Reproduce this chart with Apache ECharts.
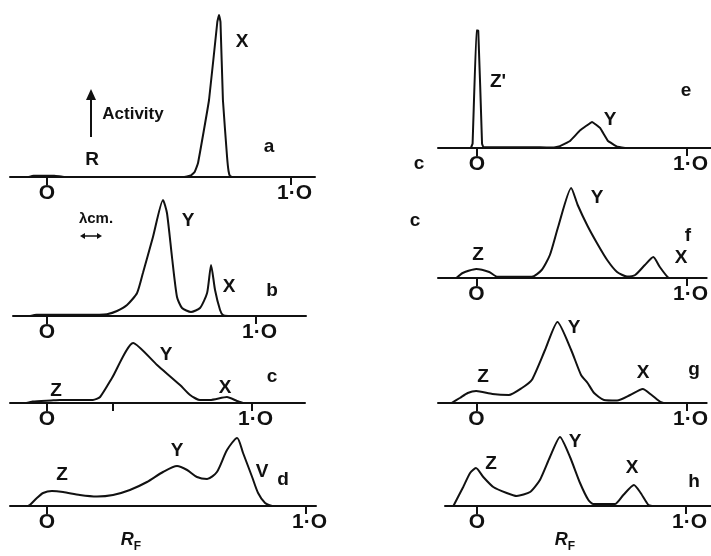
<!DOCTYPE html>
<html>
<head>
<meta charset="utf-8">
<script src="https://cdn.jsdelivr.net/npm/echarts@6/dist/echarts.min.js"></script>
<style>
  html, body { margin: 0; padding: 0; background: #fff; }
  #chart { width: 711px; height: 556px; }
</style>
</head>
<body>
<div id="chart"></div>
<script>
// activity traces, [Rf, activity]
const traceA = [[-0.075, 0], [-0.055, 1.3], [0.03, 1.3], [0.07, 0], [0.557, 0], [0.59, 1.5], [0.605, 5], [0.619, 14],
  [0.664, 77], [0.698, 155], [0.705, 162], [0.711, 155], [0.721, 77], [0.738, 20], [0.744, 6], [0.75, 1], [0.76, 0]];
const traceB = [[-0.08, 0], [-0.05, 1.2], [0.25, 1.2], [0.287, 1.7], [0.335, 5], [0.383, 11], [0.431, 23], [0.459, 43],
  [0.507, 79], [0.555, 116], [0.574, 103], [0.598, 59], [0.622, 19], [0.646, 8], [0.689, 4], [0.732, 8], [0.766, 23],
  [0.785, 51], [0.804, 26], [0.828, 6], [0.842, 1], [0.866, 0]];
const traceC = [[-0.1, 0], [-0.07, 1.5], [0.02, 2.5], [0.063, 3], [0.224, 3], [0.259, 6], [0.317, 25], [0.42, 60],
  [0.537, 38], [0.649, 18], [0.698, 8], [0.746, 3], [0.795, 3], [0.878, 6], [0.927, 2], [0.956, 0]];
const traceD = [[-0.073, 0], [-0.066, 1], [-0.039, 8], [-0.015, 13], [0.019, 15], [0.062, 14], [0.127, 11], [0.193, 9.5],
  [0.255, 11], [0.32, 16], [0.386, 24], [0.448, 34], [0.502, 40], [0.541, 36], [0.579, 29], [0.618, 27], [0.656, 34],
  [0.695, 56], [0.734, 68], [0.757, 53], [0.792, 29], [0.815, 13], [0.842, 3], [0.869, 0]];
const traceE = [[-0.029, 0], [-0.021, 5], [-0.003, 135], [0.006, 135], [0.024, 5], [0.031, 0.8], [0.3, 0.8],
  [0.362, 0.5], [0.395, 2], [0.443, 8], [0.49, 20], [0.548, 30], [0.586, 23], [0.624, 8], [0.667, 1.5], [0.705, 0]];
const traceF = [[-0.095, 0], [-0.065, 5], [-0.001, 9], [0.061, 6], [0.1, 1.2], [0.263, 1.2], [0.31, 8], [0.349, 23],
  [0.388, 51], [0.45, 90], [0.481, 73], [0.528, 52], [0.575, 34], [0.621, 18], [0.668, 6], [0.715, 1.5], [0.754, 3],
  [0.8, 13], [0.84, 21], [0.871, 11], [0.91, 0.5], [0.925, 0]];
const traceG = [[-0.118, 0], [-0.079, 5], [-0.041, 10], [-0.001, 12], [0.076, 9], [0.154, 8], [0.216, 15], [0.263, 23],
  [0.326, 53], [0.385, 81], [0.45, 53], [0.497, 28], [0.528, 20], [0.559, 10], [0.606, 3], [0.668, 2.5], [0.73, 8],
  [0.79, 14], [0.832, 8], [0.871, 1.5], [0.888, 0]];
const traceH = [[-0.113, 0], [-0.066, 19], [-0.033, 33], [-0.005, 38], [0.03, 29], [0.078, 19], [0.142, 13], [0.19, 10],
  [0.254, 14], [0.301, 26], [0.349, 49], [0.397, 69], [0.445, 49], [0.493, 23], [0.533, 6], [0.557, 2], [0.66, 2],
  [0.7, 11], [0.751, 21], [0.78, 14], [0.82, 1], [0.837, 0]];
const traces = [traceA, traceB, traceC, traceD, traceE, traceF, traceG, traceH];

const tickLabels = ['O', '1·O'];
const tickValues = [0, 1];

// where each strip sits on the page: pixel of Rf 0, pixel of Rf 1, line ends, baseline
const panels = [
  { p0: 47, p1: 291, xs: 10, xe: 315, base: 177, ticks: [0, 1], smooth: 0.1 },
  { p0: 47, p1: 256, xs: 13, xe: 306, base: 316, ticks: [0, 1], smooth: 0.2 },
  { p0: 47, p1: 252, xs: 10, xe: 305, base: 403, ticks: [0, 0.32, 1], smooth: 0.2 },
  { p0: 47, p1: 306, xs: 10, xe: 316, base: 506, ticks: [0, 1], smooth: 0.25 },
  { p0: 477, p1: 687, xs: 438, xe: 711, base: 148, ticks: [0, 1], smooth: 0.05 },
  { p0: 477, p1: 691, xs: 438, xe: 711, base: 278, ticks: [0, 1], smooth: 0.2 },
  { p0: 477, p1: 691, xs: 438, xe: 711, base: 403, ticks: [0, 1], smooth: 0.2 },
  { p0: 477, p1: 686, xs: 445, xe: 711, base: 506, ticks: [0, 1], smooth: 0.2 },
];

const labels = [
  ['X', 242, 42], ['R', 92, 160], ['a', 269, 147],
  ['Y', 188, 221], ['X', 229, 287], ['b', 272, 291],
  ['Z', 56, 391], ['Y', 166, 355], ['X', 225, 388], ['c', 272, 377],
  ['Z', 62, 475], ['Y', 177, 451], ['V', 262, 472], ['d', 283, 480],
  ["Z'", 498, 82], ['Y', 610, 120], ['e', 686, 91], ['c', 419, 164],
  ['Z', 478, 255], ['Y', 597, 198], ['X', 681, 258], ['f', 688, 236], ['c', 415, 221],
  ['Z', 483, 377], ['Y', 574, 328], ['X', 643, 373], ['g', 694, 370],
  ['Z', 491, 464], ['Y', 575, 442], ['X', 632, 468], ['h', 694, 482],
];

const ink = '#111';
const font = '"Liberation Sans", Arial, sans-serif';
const H = 170;

const chart = echarts.init(document.getElementById('chart'));

const grid = [], xAxis = [], yAxis = [], series = [];
panels.forEach((p, i) => {
  const span = p.p1 - p.p0;
  grid.push({ left: p.xs, width: p.xe - p.xs, top: p.base - H, height: H });
  xAxis.push({
    type: 'value',
    gridIndex: i,
    min: (p.xs - p.p0) / span,
    max: (p.xe - p.p0) / span,
    splitLine: { show: false },
    axisLine: { show: true, onZero: false, lineStyle: { color: ink, width: 2 } },
    axisTick: { show: true, customValues: p.ticks, length: 8, lineStyle: { color: ink, width: 2 } },
    axisLabel: {
      customValues: tickValues,
      // the "1" sits left of the tick, so nudge only that label
      formatter: v => (v === 0 ? tickLabels[0] : '{one|' + tickLabels[1] + '}'),
      color: ink,
      fontFamily: font,
      fontWeight: 'bold',
      fontSize: 21,
      margin: 6,
      rich: {
        one: { color: ink, fontFamily: font, fontWeight: 'bold', fontSize: 21, padding: [0, 0, 0, 7] },
      },
    },
  });
  yAxis.push({ type: 'value', gridIndex: i, min: 0, max: H, show: false });
  series.push({
    type: 'line',
    xAxisIndex: i,
    yAxisIndex: i,
    data: traces[i],
    symbol: 'none',
    smooth: p.smooth,
    clip: false,
    lineStyle: { color: ink, width: 2 },
  });
});

const text = (t, x, y, size, extra) => ({
  type: 'text', x, y,
  style: Object.assign({ text: t, fill: ink, font: `bold ${size}px ${font}`, align: 'center', verticalAlign: 'middle' }, extra || {}),
});

const graphic = labels.map(l => text(l[0], l[1], l[2], 19));
// "Activity" arrow
graphic.push(text('Activity', 133, 114, 17));
graphic.push({ type: 'line', shape: { x1: 91, y1: 137, x2: 91, y2: 96 }, style: { stroke: ink, lineWidth: 2 } });
graphic.push({ type: 'polygon', shape: { points: [[86, 100], [91, 89], [96, 100]] }, style: { fill: ink } });
// 1 cm scale
graphic.push(text('λcm.', 96, 219, 15));
graphic.push({ type: 'line', shape: { x1: 83, y1: 236, x2: 99, y2: 236 }, style: { stroke: ink, lineWidth: 1.5 } });
graphic.push({ type: 'polygon', shape: { points: [[80, 236], [85, 233], [85, 239]] }, style: { fill: ink } });
graphic.push({ type: 'polygon', shape: { points: [[102, 236], [97, 233], [97, 239]] }, style: { fill: ink } });
[[131, 540], [565, 540]].forEach(pt => {
  graphic.push({
    type: 'text', x: pt[0], y: pt[1],
    style: {
      text: '{r|R}{f|F}',
      align: 'center', verticalAlign: 'middle',
      rich: {
        r: { font: `italic bold 18px ${font}`, fill: ink },
        f: { font: `bold 12px ${font}`, fill: ink, padding: [14, 0, 0, 0] },
      },
    },
  });
});

chart.setOption({
  animation: false,
  backgroundColor: '#fff',
  grid,
  xAxis,
  yAxis,
  series,
  graphic,
});
</script>
</body>
</html>
